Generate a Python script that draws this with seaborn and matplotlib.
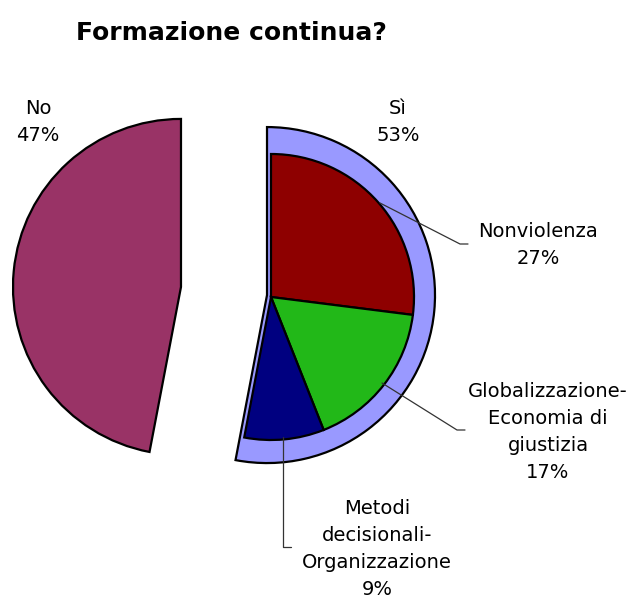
import matplotlib
matplotlib.use("Agg")
import matplotlib.pyplot as plt
import seaborn as sns

# ---- data ----
main_labels = ["Sì", "No"]
main_values = [53, 47]
sub_labels = ["Nonviolenza", "Globalizzazione-\nEconomia di\ngiustizia", "Metodi\ndecisionali-\nOrganizzazione"]
sub_values = [27, 17, 9]
title = "Formazione continua?"

main_colors = ["#9999FF", "#993366"]
sub_colors = ["#8E0000", "#22B818", "#000080"]

sns.set_theme(style="white")
plt.rcParams["font.family"] = ["DejaVu Sans"]
plt.rcParams["text.color"] = "black"

W, H = 637, 601
fig = plt.figure(figsize=(W / 100, H / 100), dpi=100)
ax = fig.add_axes([0, 0, 1, 1])

def py(y):
    return H - y

edge = dict(edgecolor="black", linewidth=1.6)

# main pie (exploded both slices)
ax.pie(main_values, colors=main_colors, startangle=90, counterclock=False,
       radius=168, center=(224, py(291)), explode=[43.2, 43.2],
       wedgeprops=edge, normalize=True)

# sub pie inside the "Sì" slice
ax.pie([v / 100 for v in sub_values], colors=sub_colors, startangle=90,
       counterclock=False, radius=143, center=(271, py(297)),
       wedgeprops=edge, normalize=False)

ax.set_xlim(0, W)
ax.set_ylim(0, H)
ax.set_aspect("equal")
ax.axis("off")

fs = 14
ls = 1.55
tc = "black"
ax.text(231, py(33), title, fontsize=18, fontweight="bold", ha="center", va="center",
        color=tc)

ax.text(38, py(122), f"{main_labels[1]}\n{main_values[1]}%", fontsize=fs, ha="center",
        va="center", linespacing=ls, color=tc)
ax.text(398, py(122), f"{main_labels[0]}\n{main_values[0]}%", fontsize=fs, ha="center",
        va="center", linespacing=ls, color=tc)

ax.text(538, py(245), f"{sub_labels[0]}\n{sub_values[0]}%", fontsize=fs, ha="center",
        va="center", linespacing=ls, color=tc)
ax.text(548, py(432), f"{sub_labels[1]}\n{sub_values[1]}%", fontsize=fs, ha="center",
        va="center", linespacing=ls, color=tc)
ax.text(377, py(549), f"{sub_labels[2]}\n{sub_values[2]}%", fontsize=fs, ha="center",
        va="center", linespacing=ls, color=tc)

lc = dict(color="#333333", linewidth=0.9)
ax.plot([380, 460, 468], [py(203), py(244), py(244)], **lc)
ax.plot([382, 457, 465], [py(383), py(430), py(430)], **lc)
ax.plot([283, 283, 291], [py(437), py(547), py(547)], **lc)

fig.savefig("out.png", dpi=100)
